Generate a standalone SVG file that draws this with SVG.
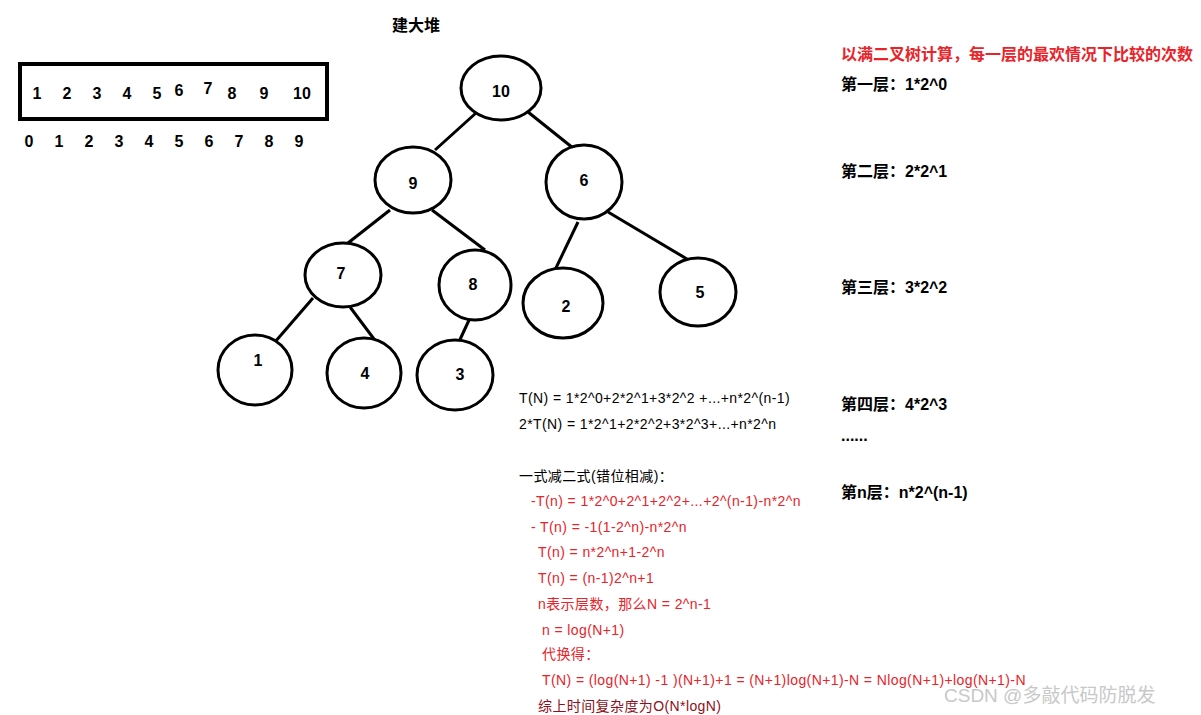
<svg xmlns="http://www.w3.org/2000/svg" width="1201" height="715" viewBox="0 0 1201 715">
<style>
.n ellipse{fill:#fff;stroke:#000;stroke-width:3}
.n text,.b{font-family:"Liberation Sans","Noto Sans CJK SC",sans-serif;font-weight:bold;font-size:16px;text-anchor:middle}
.c line{stroke:#000;stroke-width:3}
.f{font-family:"Liberation Sans","Noto Sans CJK SC",sans-serif;font-size:14px;letter-spacing:0.4px}
.r{fill:#e8232a}
.h{font-family:"Liberation Sans","Noto Sans CJK SC",sans-serif;font-weight:bold;font-size:16px}
</style>
<rect width="1201" height="715" fill="#fff"/>
<text class="b" x="416" y="31">建大堆</text>
<rect x="20" y="64" width="307" height="55" fill="none" stroke="#000" stroke-width="4"/>
<g class="b">
<text x="37" y="99">1</text><text x="67" y="99">2</text><text x="97" y="99">3</text><text x="127" y="99">4</text><text x="157" y="99">5</text><text x="179" y="96">6</text><text x="208" y="94">7</text><text x="232" y="99">8</text><text x="264" y="99">9</text><text x="302" y="99">10</text>
<text x="29" y="147">0</text><text x="59" y="147">1</text><text x="89" y="147">2</text><text x="119" y="147">3</text><text x="149" y="147">4</text><text x="179" y="147">5</text><text x="209" y="147">6</text><text x="239" y="147">7</text><text x="269" y="147">8</text><text x="299" y="147">9</text>
</g>
<g class="c">
<line x1="476" y1="113" x2="435" y2="150"/><line x1="528" y1="112" x2="578" y2="152"/>
<line x1="390" y1="210" x2="348" y2="243"/><line x1="432" y1="210" x2="485" y2="250"/>
<line x1="578" y1="222" x2="555" y2="270"/><line x1="608" y1="212" x2="692" y2="262"/>
<line x1="313" y1="298" x2="275" y2="342"/><line x1="350" y1="307" x2="377" y2="343"/>
<line x1="470" y1="318" x2="457" y2="346"/>
</g>
<g id="n10" class="n"><ellipse cx="501" cy="88" rx="40" ry="32"/><text x="501" y="97">10</text></g>
<g id="n9" class="n"><ellipse cx="413" cy="180" rx="38" ry="33"/><text x="413" y="189">9</text></g>
<g id="n6" class="n"><ellipse cx="584" cy="182" rx="38" ry="37"/><text x="584" y="186">6</text></g>
<g id="n7" class="n"><ellipse cx="343" cy="275" rx="38" ry="32"/><text x="341" y="279">7</text></g>
<g id="n8" class="n"><ellipse cx="475" cy="285" rx="36" ry="35"/><text x="473" y="290">8</text></g>
<g id="n2" class="n"><ellipse cx="563" cy="303" rx="40" ry="35"/><text x="566" y="312">2</text></g>
<g id="n5" class="n"><ellipse cx="698" cy="292" rx="38" ry="34"/><text x="700" y="298">5</text></g>
<g id="n1" class="n"><ellipse cx="255" cy="370" rx="37" ry="35"/><text x="258" y="366">1</text></g>
<g id="n4" class="n"><ellipse cx="364" cy="373" rx="37" ry="35"/><text x="365" y="379">4</text></g>
<g id="n3" class="n"><ellipse cx="455" cy="375" rx="38" ry="35"/><text x="460" y="380">3</text></g>
<text class="h r" x="841" y="60">以满二叉树计算，每一层的最欢情况下比较的次数</text>
<g class="h">
<text x="841" y="90">第一层：1*2^0</text>
<text x="841" y="177">第二层：2*2^1</text>
<text x="841" y="293">第三层：3*2^2</text>
<text x="841" y="410">第四层：4*2^3</text>
<text x="841" y="441">......</text>
<text x="841" y="498">第n层：n*2^(n-1)</text>
</g>
<g class="f">
<text x="519" y="403">T(N) = 1*2^0+2*2^1+3*2^2 +...+n*2^(n-1)</text>
<text x="519" y="429">2*T(N) = 1*2^1+2*2^2+3*2^3+...+n*2^n</text>
<text x="519" y="481">一式减二式(错位相减)：</text>
<g class="r">
<text x="531" y="506">-T(n) = 1*2^0+2^1+2^2+...+2^(n-1)-n*2^n</text>
<text x="531" y="532">- T(n) = -1(1-2^n)-n*2^n</text>
<text x="538" y="557">T(n) = n*2^n+1-2^n</text>
<text x="538" y="583">T(n) = (n-1)2^n+1</text>
<text x="538" y="609">n表示层数，那么N = 2^n-1</text>
<text x="542" y="635">n = log(N+1)</text>
<text x="542" y="659">代换得：</text>
<text x="542" y="685">T(N) = (log(N+1) -1 )(N+1)+1 = (N+1)log(N+1)-N = Nlog(N+1)+log(N+1)-N</text>
</g>
<text x="538" y="711" fill="#8b1020">综上时间复杂度为O(N*logN)</text>
</g>
<text x="944" y="702" font-family="Liberation Sans,Noto Sans CJK SC,sans-serif" font-size="19" fill="#c8c8c8">CSDN @多敲代码防脱发</text>
</svg>
